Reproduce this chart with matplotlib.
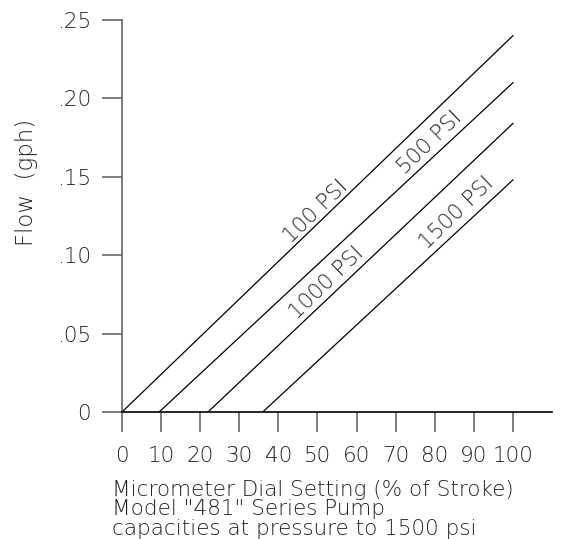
import matplotlib
matplotlib.use("Agg")
import matplotlib.pyplot as plt

# pressure curves: x-intercept (% stroke) and flow at 100 % stroke
labels = ["100 PSI", "500 PSI", "1000 PSI", "1500 PSI"]
x_start = [0, 9.5, 22, 36]
x_end = [100, 100, 100, 100]
flow_end = [0.24, 0.21, 0.184, 0.148]

# label anchor positions (data coords)
label_x = [49.6, 78.8, 52.4, 85.7]
label_y = [0.1276, 0.1716, 0.0823, 0.127]

xticks = [0, 10, 20, 30, 40, 50, 60, 70, 80, 90, 100]
yticks = [0, 0.05, 0.10, 0.15, 0.20, 0.25]
ytick_labels = ["0", ".05", ".10", ".15", ".20", ".25"]

caption = ["Micrometer Dial Setting (% of Stroke)",
           'Model "481" Series Pump',
           "capacities at pressure to 1500 psi"]

plt.rcParams["font.family"] = ["DejaVu Sans"]
plt.rcParams["font.weight"] = 200
txt = "#222222"
axc = "#666666"

fig = plt.figure(figsize=(5.65, 5.39), dpi=100)
ax = fig.add_axes([122 / 565, 127 / 539, 430 / 565, 392 / 539])

for xs, xe, fe in zip(x_start, x_end, flow_end):
    ax.plot([xs, xe], [0, fe], color="black", linewidth=0.9)

for lab, lx, ly in zip(labels, label_x, label_y):
    ax.text(lx, ly, lab, rotation=44, rotation_mode="anchor", ha="center", va="center",
            fontsize=15.5, color=txt)

ax.set_xlim(0, 110)
ax.set_ylim(0, 0.25)
ax.set_xticks(xticks)
ax.set_yticks(yticks)
ax.set_yticklabels(ytick_labels)

for s in ["top", "right"]:
    ax.spines[s].set_visible(False)
ax.spines["left"].set_color(axc)
ax.spines["bottom"].set_color("black")
ax.spines["left"].set_linewidth(1.2)
ax.spines["bottom"].set_linewidth(1.2)

ax.tick_params(axis="x", length=14.4, width=1.2, color=axc, pad=10, labelsize=15.5, labelcolor=txt)
ax.tick_params(axis="y", length=14.4, width=1.2, color=axc, pad=8, labelsize=15.5, labelcolor=txt)

fig.text(27 / 565, 1 - 182 / 539, "Flow  (gph)", rotation=90, ha="center", va="center",
         fontsize=16.5, color=txt)

fig.text(112 / 565, 1 - 480 / 539, "\n".join(caption), fontsize=15.5, color=txt,
         ha="left", va="top", linespacing=0.96)

fig.savefig("out.png", dpi=100)
